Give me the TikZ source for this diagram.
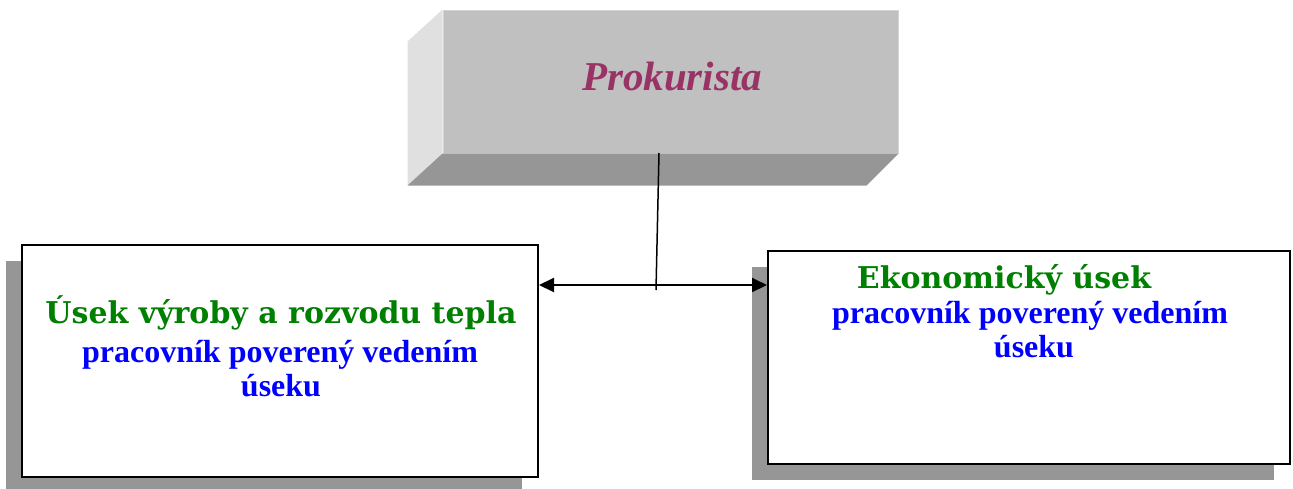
\documentclass[tikz,border=0pt]{standalone}
\usepackage{fontspec}
\setmainfont{Liberation Serif}
\newfontfamily\headfont{DejaVu Serif}
\usetikzlibrary{arrows.meta,shadows}
\definecolor{frontgray}{RGB}{192,192,192}
\definecolor{sidegray}{RGB}{224,224,224}
\definecolor{bottomgray}{RGB}{150,150,150}
\definecolor{edgegray}{RGB}{212,212,212}
\definecolor{shadowgray}{RGB}{150,150,150}
\definecolor{prokcol}{RGB}{153,51,102}
\definecolor{headgreen}{RGB}{0,128,0}
\definecolor{subblue}{RGB}{0,0,255}
\tikzset{
  unitbox/.style={draw=black, line width=2pt, fill=white, inner sep=0pt,
    drop shadow={shadow xshift=-16pt, shadow yshift=-16pt, fill=shadowgray, opacity=1}},
  headtxt/.style={anchor=base, inner sep=0pt, text=headgreen, font=\headfont\bfseries\fontsize{30}{34}\selectfont},
  subtxt/.style={anchor=base, inner sep=0pt, text=subblue, font=\bfseries\fontsize{32}{36}\selectfont},
  linkarrow/.style={line width=2pt, -{Triangle[length=15pt,width=14pt]}},
}
\begin{document}
\begin{tikzpicture}[x=1pt,y=-1pt]
\useasboundingbox (0,0) rectangle (1293,488);
% top 3D box
\node[fill=frontgray, draw=edgegray, line width=1pt, minimum width=455pt, minimum height=143pt, inner sep=0pt] (top) at (670.5,81.5) {};
\fill[sidegray] ([shift={(-35pt,-32pt)}]top.north west) -- (top.north west) -- (top.south west) -- ([shift={(-35pt,-32pt)}]top.south west) -- cycle;
\fill[bottomgray] ([shift={(-35pt,-32pt)}]top.south west) -- (top.south west) -- (top.south east) -- ([shift={(-32pt,-32pt)}]top.south east) -- cycle;
\node[anchor=base, inner sep=0pt, text=prokcol, font=\bfseries\itshape\fontsize{41}{48}\selectfont] (prok) at (672,90) {Prokurista};
% unit boxes
\node[unitbox, minimum width=516pt, minimum height=232pt] (left) at (280,361) {};
\node[unitbox, minimum width=522pt, minimum height=213pt] (right) at (1029,357.5) {};
% texts
\node[headtxt] (lh) at (281,323) {Úsek výroby a rozvodu tepla};
\node[subtxt] (ls1) at (280,362) {pracovník poverený vedením};
\node[subtxt] (ls2) at (281,396) {úseku};
\node[headtxt] (rh) at (1004,288) {Ekonomický úsek};
\node[subtxt] (rs1) at (1030,323) {pracovník poverený vedením};
\node[subtxt] (rs2) at (1034,357) {úseku};
% connectors
\coordinate (vt) at (659,153);
\coordinate (j) at (656,285);
\coordinate (vb) at (656,290);
\draw[line width=1.5pt] (vt) -- (vb);
\draw[linkarrow] (j) -- (j -| left.east);
\draw[linkarrow] (j) -- (j -| right.west);
\end{tikzpicture}
\end{document}
